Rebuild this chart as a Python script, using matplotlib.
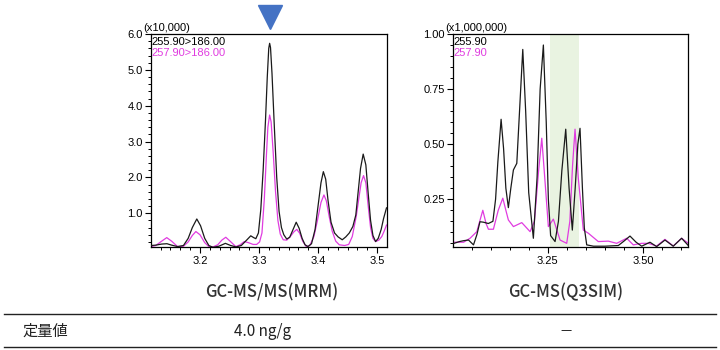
import matplotlib
matplotlib.use("Agg")
import matplotlib.pyplot as plt
from matplotlib.ticker import MultipleLocator, FixedLocator, FormatStrFormatter
from matplotlib.transforms import blended_transform_factory

plt.rcParams['font.family'] = ['Liberation Sans', 'DejaVu Sans']

# --- GC-MS/MS (MRM), intensity x10,000 ---
mrm_t_black = [3.117, 3.125, 3.135, 3.144, 3.152, 3.162, 3.172, 3.180, 3.187, 3.1946,
               3.201, 3.208, 3.215, 3.222, 3.232, 3.243, 3.252, 3.261, 3.270, 3.279,
               3.286, 3.291, 3.2946, 3.299, 3.303, 3.307, 3.311, 3.314, 3.3165, 3.318,
               3.3195, 3.322, 3.326, 3.330, 3.334, 3.338, 3.342, 3.347, 3.352, 3.357,
               3.363, 3.368, 3.373, 3.378, 3.383, 3.389, 3.395, 3.400, 3.405, 3.409,
               3.413, 3.417, 3.422, 3.428, 3.434, 3.441, 3.447, 3.453, 3.459, 3.464,
               3.468, 3.472, 3.4765, 3.481, 3.485, 3.489, 3.493, 3.4975, 3.502, 3.507,
               3.511, 3.516]
mrm_i_black = [0.10, 0.11, 0.14, 0.15, 0.11, 0.07, 0.10, 0.30, 0.60, 0.84,
               0.65, 0.30, 0.10, 0.05, 0.08, 0.16, 0.10, 0.06, 0.10, 0.25,
               0.37, 0.32, 0.29, 0.45, 1.10, 2.20, 3.60, 4.80, 5.60, 5.74,
               5.62, 4.90, 3.40, 2.00, 1.05, 0.60, 0.40, 0.28, 0.33, 0.52,
               0.75, 0.58, 0.30, 0.12, 0.07, 0.15, 0.55, 1.20, 1.85, 2.16,
               1.95, 1.35, 0.75, 0.45, 0.34, 0.26, 0.34, 0.45, 0.63, 0.95,
               1.60, 2.25, 2.65, 2.35, 1.55, 0.80, 0.38, 0.21, 0.30, 0.55,
               0.85, 1.15]

mrm_t_mag = [3.117, 3.125, 3.135, 3.1437, 3.152, 3.162, 3.172, 3.180, 3.187, 3.193,
             3.200, 3.208, 3.215, 3.222, 3.230, 3.237, 3.2437, 3.251, 3.2607, 3.268,
             3.275, 3.282, 3.290, 3.296, 3.301, 3.305, 3.309, 3.3125, 3.315, 3.318,
             3.3205, 3.324, 3.328, 3.332, 3.336, 3.341, 3.347, 3.353, 3.359, 3.364,
             3.369, 3.374, 3.380, 3.386, 3.393, 3.399, 3.405, 3.410, 3.414, 3.419,
             3.424, 3.430, 3.436, 3.445, 3.452, 3.458, 3.4647, 3.469, 3.473, 3.4771,
             3.481, 3.485, 3.489, 3.493, 3.4975, 3.503, 3.508, 3.512, 3.516]
mrm_i_mag = [0.07, 0.10, 0.22, 0.32, 0.22, 0.07, 0.08, 0.20, 0.38, 0.49,
             0.40, 0.18, 0.07, 0.06, 0.12, 0.25, 0.33, 0.22, 0.07, 0.12,
             0.21, 0.18, 0.13, 0.13, 0.20, 0.45, 1.40, 2.60, 3.40, 3.74,
             3.55, 2.70, 1.60, 0.80, 0.42, 0.26, 0.25, 0.35, 0.48, 0.55,
             0.44, 0.22, 0.07, 0.10, 0.35, 0.80, 1.30, 1.51, 1.35, 0.90,
             0.50, 0.22, 0.12, 0.10, 0.13, 0.35, 0.91, 1.40, 1.85, 2.05,
             1.85, 1.20, 0.60, 0.30, 0.21, 0.25, 0.35, 0.50, 0.67]

# --- GC-MS (Q3SIM), intensity x1,000,000 ---
sim_t_black = [3.004, 3.018, 3.029, 3.042, 3.055, 3.064, 3.072, 3.081, 3.094, 3.106,
               3.113, 3.119, 3.1275, 3.134, 3.140, 3.1466, 3.153, 3.1598, 3.1687, 3.175,
               3.1844, 3.192, 3.200, 3.2122, 3.222, 3.230, 3.2385, 3.246, 3.2516, 3.2575,
               3.2692, 3.278, 3.287, 3.2972, 3.306, 3.3145, 3.322, 3.329, 3.3347, 3.341,
               3.346, 3.3523, 3.370, 3.400, 3.4352, 3.450, 3.4659, 3.482, 3.4966, 3.5184,
               3.5359, 3.5577, 3.5795, 3.6015, 3.619]
sim_i_black = [0.050, 0.058, 0.062, 0.065, 0.043, 0.090, 0.148, 0.146, 0.140, 0.150,
               0.250, 0.420, 0.613, 0.480, 0.300, 0.212, 0.300, 0.383, 0.413, 0.620,
               0.930, 0.650, 0.280, 0.073, 0.350, 0.750, 0.950, 0.600, 0.250, 0.085,
               0.058, 0.150, 0.380, 0.568, 0.300, 0.110, 0.300, 0.500, 0.572, 0.300,
               0.120, 0.043, 0.037, 0.037, 0.040, 0.060, 0.083, 0.055, 0.037, 0.055,
               0.035, 0.065, 0.037, 0.073, 0.040]

sim_t_mag = [3.004, 3.029, 3.046, 3.0637, 3.0795, 3.088, 3.0942, 3.1073, 3.120, 3.132,
             3.140, 3.1466, 3.1598, 3.1818, 3.2036, 3.215, 3.226, 3.2343, 3.242, 3.2516,
             3.2647, 3.2823, 3.2998, 3.308, 3.315, 3.3216, 3.330, 3.3434, 3.3565, 3.3827,
             3.409, 3.431, 3.4572, 3.4746, 3.4966, 3.5139, 3.5359, 3.5577, 3.5795, 3.6015,
             3.619]
sim_i_mag = [0.055, 0.055, 0.073, 0.103, 0.200, 0.140, 0.114, 0.114, 0.200, 0.255,
             0.200, 0.156, 0.126, 0.144, 0.103, 0.150, 0.380, 0.527, 0.350, 0.126,
             0.160, 0.065, 0.050, 0.150, 0.400, 0.568, 0.350, 0.110, 0.096, 0.058,
             0.060, 0.050, 0.073, 0.043, 0.050, 0.050, 0.038, 0.068, 0.038, 0.073,
             0.050]

sim_window = (3.256, 3.333)
target_rt = 3.318

titles = ["GC-MS/MS(MRM)", "GC-MS(Q3SIM)"]
row_label = "定量値"
row_values = ["4.0 ng/g", "—"]

BLACK = "#1a1a1a"
MAGENTA = "#e03ce0"

fig = plt.figure(figsize=(7.2, 3.5), dpi=100)


def style_axes(ax):
    ax.tick_params(which='major', direction='out', length=4, width=0.8,
                   labelsize=8, pad=2, colors='black')
    ax.tick_params(which='minor', direction='out', length=2.5, width=0.7)
    for s in ax.spines.values():
        s.set_linewidth(0.9)


# left chromatogram
ax1 = fig.add_axes([151 / 720, 1 - 247.3 / 350, 235.5 / 720, 213.3 / 350])
ax1.plot(mrm_t_black, mrm_i_black, color=BLACK, lw=0.9, zorder=3)
ax1.plot(mrm_t_mag, mrm_i_mag, color=MAGENTA, lw=0.9, zorder=2)
ax1.set_xlim(3.117, 3.516)
ax1.set_ylim(0.05, 6.0)
ax1.xaxis.set_major_locator(FixedLocator([3.2, 3.3, 3.4, 3.5]))
ax1.xaxis.set_major_formatter(FormatStrFormatter('%.1f'))
ax1.xaxis.set_minor_locator(MultipleLocator(0.1 / 6))
ax1.yaxis.set_major_locator(FixedLocator([1, 2, 3, 4, 5, 6]))
ax1.yaxis.set_major_formatter(FormatStrFormatter('%.1f'))
ax1.yaxis.set_minor_locator(MultipleLocator(0.2))
style_axes(ax1)
ax1.text(-0.035, 1.005, "(x10,000)", transform=ax1.transAxes, fontsize=8,
         ha='left', va='bottom')
ax1.text(0.0, 0.962, "255.90>186.00", transform=ax1.transAxes, fontsize=8,
         color='black', ha='left', va='center')
ax1.text(0.0, 0.910, "257.90>186.00", transform=ax1.transAxes, fontsize=8,
         color=MAGENTA, ha='left', va='center')
tr = blended_transform_factory(ax1.transData, ax1.transAxes)
ax1.plot([target_rt], [1.082], marker='v', markersize=17.5, color='#4472c4',
         transform=tr, clip_on=False, linestyle='none')

# right chromatogram
ax2 = fig.add_axes([453.3 / 720, 1 - 247.3 / 350, 235 / 720, 213.3 / 350])
ax2.axvspan(sim_window[0], sim_window[1], color='#e9f3e1', zorder=0, lw=0)
ax2.plot(sim_t_black, sim_i_black, color=BLACK, lw=0.9, zorder=3)
ax2.plot(sim_t_mag, sim_i_mag, color=MAGENTA, lw=0.9, zorder=2)
ax2.set_xlim(3.002, 3.619)
ax2.set_ylim(0.032, 1.0)
ax2.xaxis.set_major_locator(FixedLocator([3.25, 3.50]))
ax2.xaxis.set_major_formatter(FormatStrFormatter('%.2f'))
ax2.xaxis.set_minor_locator(MultipleLocator(0.05))
ax2.yaxis.set_major_locator(FixedLocator([0.25, 0.5, 0.75, 1.0]))
ax2.yaxis.set_major_formatter(FormatStrFormatter('%.2f'))
ax2.yaxis.set_minor_locator(MultipleLocator(0.05))
style_axes(ax2)
ax2.text(-0.035, 1.005, "(x1,000,000)", transform=ax2.transAxes, fontsize=8,
         ha='left', va='bottom')
ax2.text(0.0, 0.962, "255.90", transform=ax2.transAxes, fontsize=8,
         color='black', ha='left', va='center')
ax2.text(0.0, 0.910, "257.90", transform=ax2.transAxes, fontsize=8,
         color=MAGENTA, ha='left', va='center')

# titles under the charts
jp = ['Noto Sans CJK JP', 'DejaVu Sans']
fig.text(272 / 720, 1 - 292 / 350, titles[0], ha='center', va='center',
         fontsize=12, color='#333333', family=jp, weight='medium')
fig.text(566 / 720, 1 - 292 / 350, titles[1], ha='center', va='center',
         fontsize=12, color='#333333', family=jp, weight='medium')

# table row
fig.add_artist(plt.Line2D([4 / 720, 716 / 720], [1 - 314 / 350] * 2,
                          color='#222222', lw=1.0))
fig.add_artist(plt.Line2D([4 / 720, 716 / 720], [1 - 347 / 350] * 2,
                          color='#222222', lw=1.0))
fig.text(22 / 720, 1 - 331 / 350, row_label, ha='left', va='center',
         fontsize=11, color='#222222', family=jp)
fig.text(263 / 720, 1 - 331 / 350, row_values[0], ha='center', va='center',
         fontsize=11, color='#222222', family=jp)
fig.text(566 / 720, 1 - 331 / 350, row_values[1], ha='center', va='center',
         fontsize=9, color='#222222', family=jp)

fig.savefig("out.png", dpi=100)
